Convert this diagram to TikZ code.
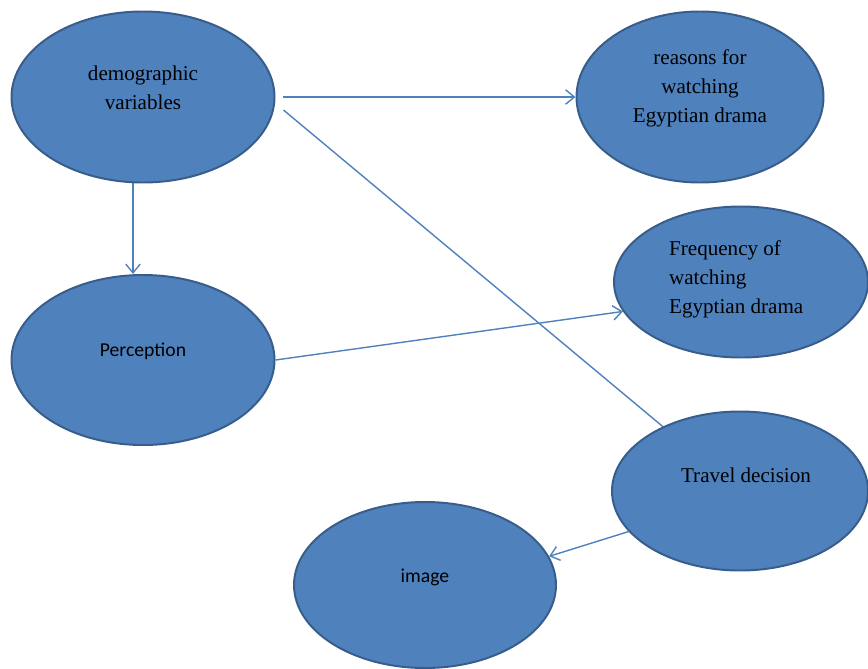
\documentclass[tikz,border=0pt]{standalone}
\usepackage{fontspec}
\setmainfont{Liberation Serif}
\newfontfamily\calibri{Carlito}
\usetikzlibrary{arrows.meta, shapes.geometric, backgrounds}
\definecolor{azul}{HTML}{4F81BD}
\definecolor{borda}{HTML}{385D8A}

\begin{document}
\begin{tikzpicture}[
    bolha/.style={ellipse, draw=borda, fill=azul, line width=1.4pt, inner sep=0pt},
    rotulo/.style={align=center, font=\fontsize{15}{20.6}\selectfont},
    seta/.style={draw=azul, line width=1pt, -{Straight Barb[length=2.2mm, width=3.6mm]}}]
    \useasboundingbox (0,0) rectangle (21.7,-16.7);

    % Elipses
    \node[bolha, minimum width=6.575cm, minimum height=4.275cm] (demo) at (3.575,-2.425) {};
    \node[bolha, minimum width=6.175cm, minimum height=4.275cm] (motivos) at (17.5,-2.425) {};
    \node[bolha, minimum width=6.35cm, minimum height=3.775cm] (freq) at (18.525,-7.05) {};
    \node[bolha, minimum width=6.575cm, minimum height=4.25cm] (percep) at (3.575,-9.0) {};
    \node[bolha, minimum width=6.4cm, minimum height=3.975cm] (viagem) at (18.5,-12.275) {};
    \node[bolha, minimum width=6.55cm, minimum height=4.15cm] (imagem) at (10.625,-14.625) {};

    % Textos
    \node[rotulo] (tdemo) at ([yshift=0.24cm]demo) {demographic\\variables};
    \node[rotulo] (tmotivos) at ([yshift=0.22cm]motivos) {reasons for\\watching\\Egyptian drama};
    \node[rotulo, align=left] (tfreq) at ([shift={(-0.12,0.07)}]freq) {Frequency of\\watching\\Egyptian drama};
    \node[font=\calibri\fontsize{14}{17}\selectfont] (tpercep) at ([yshift=0.22cm]percep) {Perception};
    \node[rotulo] (tviagem) at ([shift={(0.15,0.4)}]viagem) {Travel decision};
    \node[font=\calibri\fontsize{14}{17}\selectfont] (timagem) at ([yshift=0.2cm]imagem) {image};

    % Setas por baixo das elipses
    \begin{scope}[on background layer]
        \draw[seta, shorten <=0.2cm] (demo.east) -- (motivos.west);
        \draw[seta] ([xshift=-0.25cm]demo.south) -- ([xshift=-0.25cm]percep.north);
        \draw[seta] ([shift={(0.2,-0.325)}]demo.east) -- (viagem.center);
        \draw[seta] (percep.east) -- (freq.194);
        \draw[seta] (viagem.200) -- (imagem.13);
    \end{scope}
\end{tikzpicture}
\end{document}
